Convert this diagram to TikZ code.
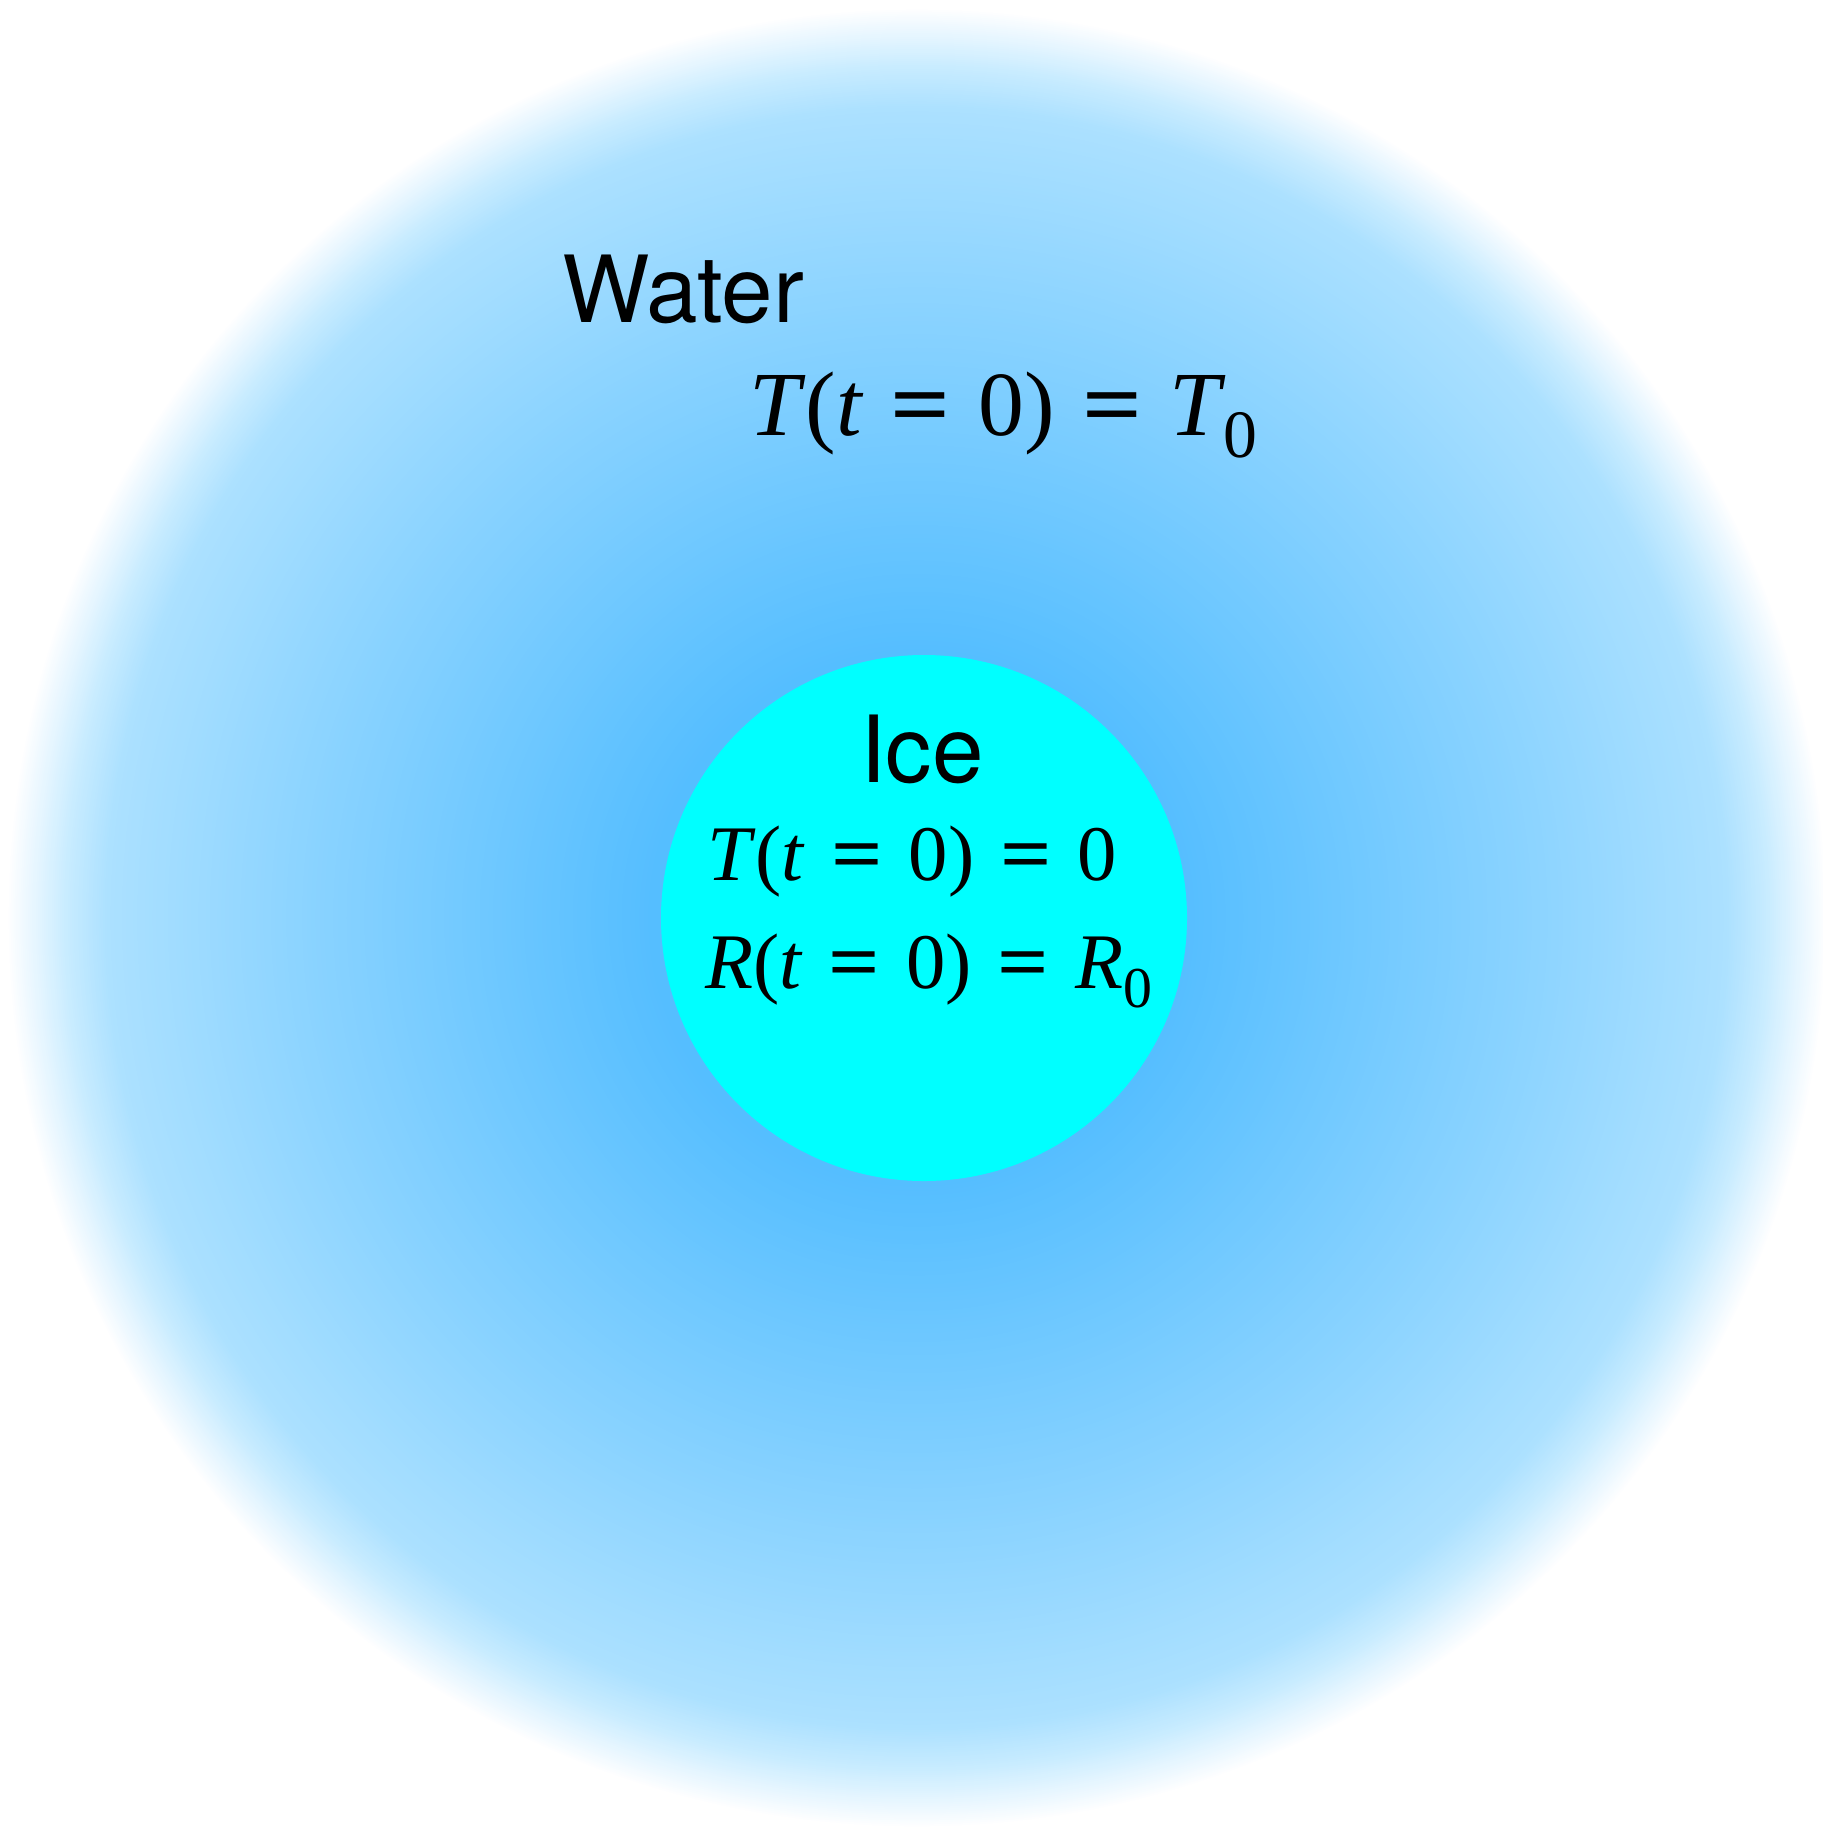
\documentclass[tikz,border=0pt]{standalone}
\usepackage{graphicx}
\usepackage{fontspec}
\setmainfont{Liberation Serif}
\newfontfamily\helv{TeX Gyre Heros}
\definecolor{icecol}{RGB}{0,255,255}
\newcommand\eqs[1][0.3]{\hspace{#1em}\scalebox{1.15}[1]{\textbf{=}}\hspace{#1em}}
% one band of the water glow: s_out s_in R_out G_out R_in G_in steps
\newcommand\glowseg[7]{%
  \foreach \k in {0,...,#7}{%
    \pgfmathsetmacro\rr{(#1-(#1-#2)*\k/#7)*910}%
    \pgfmathtruncatemacro\cr{#3+(#5-#3)*\k/#7}%
    \pgfmathtruncatemacro\cg{#4+(#6-#4)*\k/#7}%
    \definecolor{glowc}{RGB}{\cr,\cg,255}%
    \fill[glowc] (917,918) circle[radius=\rr bp];
  }}
\tikzset{
  label sans/.style={anchor=base west, inner sep=0pt, font=\helv\fontsize{93}{100}\selectfont},
  label math/.style={anchor=base west, inner sep=0pt},
}
\begin{document}
\begin{tikzpicture}[x=1bp,y=-1bp]
\useasboundingbox (0,0) rectangle (1823,1833);
\fill[white] (0,0) rectangle (1823,1833);
% water glow, drawn from the rim inwards
\glowseg{1.000}{0.970}{255}{255}{230}{246}{14}
\glowseg{0.970}{0.935}{230}{246}{200}{236}{16}
\glowseg{0.935}{0.890}{200}{236}{172}{225}{20}
\glowseg{0.890}{0.680}{172}{225}{140}{212}{50}
\glowseg{0.680}{0.290}{140}{212}{85}{190}{80}
% ice sphere
\fill[icecol] (924,918) circle[radius=263bp];
\coordinate (icec) at (924,918);
% labels
\node[label sans] (water) at (562,322) {Water};
\node[label math, font=\fontsize{92}{100}\selectfont] (weq) at (749,435)
  {\textit{T}(\textit{t}\eqs 0)\eqs\textit{T}\hspace{-0.03em}\raisebox{-0.25em}{\fontsize{68}{70}\selectfont 0}};
\node[label sans] (ice) at (860,782) {Ice};
\node[label math, font=\fontsize{79}{90}\selectfont] (teq) at (707,880)
  {\textit{T}(\textit{t}\eqs[0.33]0)\eqs[0.33]0};
\node[label math, font=\fontsize{79}{90}\selectfont] (req) at (705,988)
  {\textit{R}(\textit{t}\eqs[0.33]0)\eqs[0.33]\textit{R}\raisebox{-0.25em}{\fontsize{58}{60}\selectfont 0}};
\end{tikzpicture}
\end{document}
